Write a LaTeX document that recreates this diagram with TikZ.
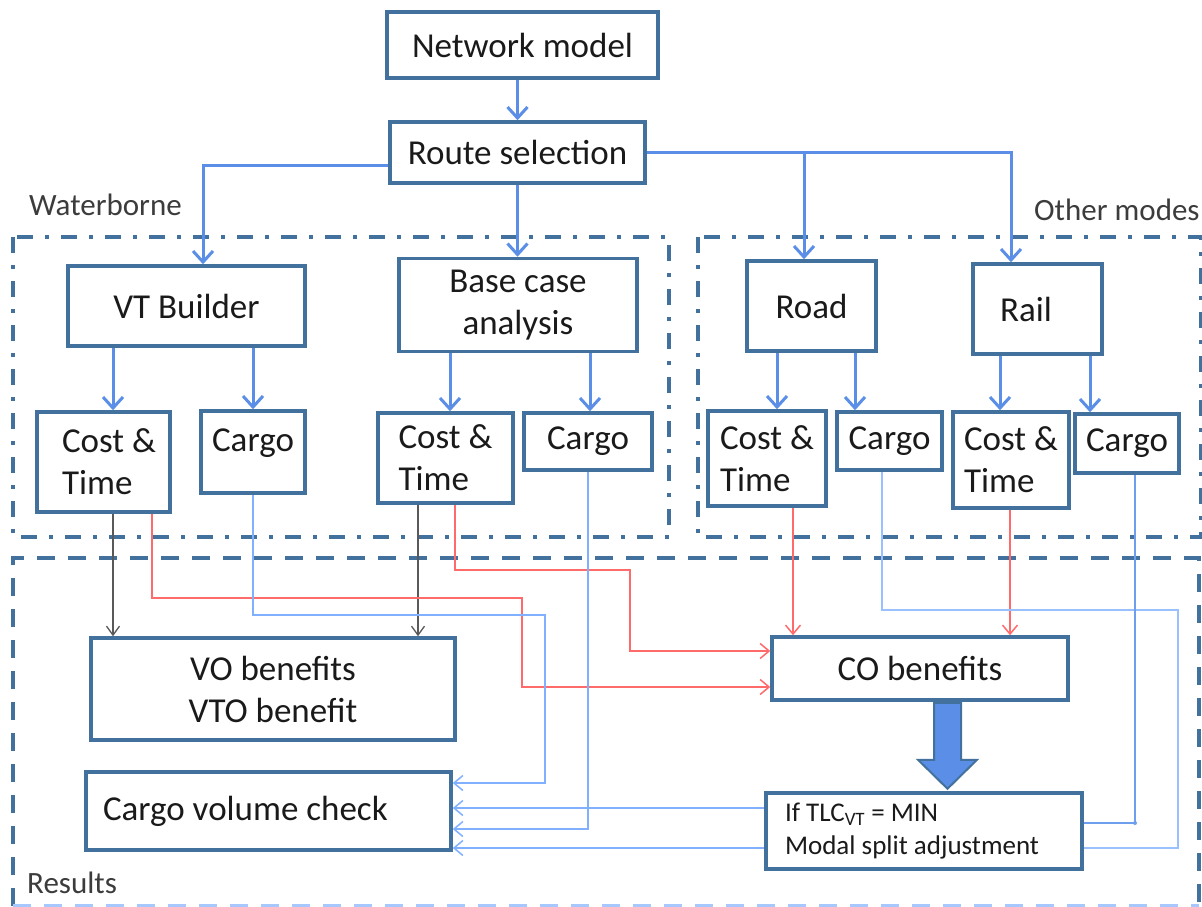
\documentclass[tikz,border=0pt]{standalone}
\usepackage{fontspec}
\setmainfont{Carlito}
\usetikzlibrary{arrows.meta}
\definecolor{boxc}{HTML}{41719C}
\definecolor{arrc}{HTML}{5B8EE6}
\definecolor{thinb}{HTML}{80B0FF}
\definecolor{thinb2}{HTML}{6E9FEE}
\definecolor{redc}{HTML}{FF6B6B}
\definecolor{grayc}{HTML}{595959}
\definecolor{txtc}{HTML}{1A1A1A}
\tikzset{
  box/.style={draw=boxc, line width=3.5pt, fill=white, inner sep=0pt, text=txtc,
    font=\fontsize{35}{42}\selectfont},
  smallbox/.style={box, font=\fontsize{27}{33}\selectfont},
  lbl/.style={inner sep=0pt, text=txtc!85, font=\fontsize{31}{37}\selectfont},
  barrow/.style={draw=arrc, line width=3pt, -{Straight Barb[length=11pt,width=20pt]}},
  rarrow/.style={draw=redc, line width=1.5pt, -{Straight Barb[length=9pt,width=15pt]}},
  garrow/.style={draw=grayc, line width=1.3pt, -{Straight Barb[length=9pt,width=13pt]}},
  tarrow/.style={draw=thinb, line width=1.5pt, -{Straight Barb[length=9pt,width=15pt]}},
  tline/.style={draw=thinb, line width=1.5pt},
  ddframe/.style={draw=boxc, line width=3.5pt, dash pattern=on 16pt off 12pt on 4pt off 12pt},
  dframe/.style={draw=boxc, line width=3.5pt, dash pattern=on 18pt off 13pt},
  blockarrow/.style={fill=arrc, draw=boxc, line width=2pt, line join=miter}
}
\begin{document}
\begin{tikzpicture}[x=1pt,y=-1pt]
\useasboundingbox[fill=white] (0,0) rectangle (1202,907);

% frames
\draw[ddframe] (13,237) rectangle (669,537);
\draw[ddframe] (698,237) rectangle (1201,537);
\draw[dframe] (13,906) -- (13,558) -- (1199,558) -- (1199,906);
\draw[dframe, draw=thinb!70] (13,906) -- (1199,906);

% labels
\node[lbl, anchor=west] (lw) at (29,205) {Waterborne};
\node[lbl, anchor=west] (lo) at (1034,210) {Other modes};
\node[lbl, anchor=west] (lr) at (27,883) {Results};

% top boxes
\node[box, minimum width=271, minimum height=66] (net) at (522.5,45) {Network model};
\node[box, minimum width=255, minimum height=61] (route) at (517.5,152.5) {Route selection};

% second level
\node[box, minimum width=237, minimum height=80] (vtb) at (186.5,306) {VT Builder};
\node[box, minimum width=238, minimum height=93, align=center] (base) at (518,305) {Base case\\analysis};
\node[box, minimum width=129, minimum height=90] (road) at (811.5,306) {Road};
\node[box, minimum width=129, minimum height=90, text width=113pt, inner xsep=8pt, align=flush left] (rail) at (1037.5,309) {\hspace*{19pt}Rail};

% third level
\node[box, minimum width=133, minimum height=100, text width=111pt, inner xsep=11pt, align=flush left] (vtct) at (103.5,462) {\hspace*{14pt}Cost \&\\\hspace*{14pt}Time};
\node[box, minimum width=104, minimum height=82, text height=40pt, text depth=42pt] (vtcg) at (253,452) {Cargo};
\node[box, minimum width=135, minimum height=90, align=left] (bct) at (445.5,458) {Cost \&\\Time};
\node[box, minimum width=128, minimum height=57] (bcg) at (588,441.5) {Cargo};
\node[box, minimum width=118, minimum height=95, align=left] (rct) at (767,458.5) {Cost \&\\Time};
\node[box, minimum width=105, minimum height=58] (rcg) at (889.5,441) {Cargo};
\node[box, minimum width=116, minimum height=96, align=left] (lct) at (1011,460) {Cost \&\\Time};
\node[box, minimum width=104, minimum height=59] (lcg) at (1127,443.5) {Cargo};

% results
\node[box, minimum width=364, minimum height=102, align=center] (vo) at (273,689) {VO benefits\\VTO benefit};
\node[box, minimum width=365, minimum height=78, text width=331pt, inner xsep=17pt, align=flush left] (cvc) at (268.5,811) {Cargo volume check};
\node[box, minimum width=296, minimum height=63] (co) at (920,668.5) {CO benefits};
\node[smallbox, minimum width=316, minimum height=76, text width=278pt, inner xsep=19pt, align=flush left] (tlc) at (924,831) {If TLC\textsubscript{VT} = MIN\\Modal split adjustment};

% blue arrows top
\draw[barrow] (net.south -| route.north) -- (route.north);
\draw[barrow] ([yshift=-12.5]route.west) -| ([xshift=16.5]vtb.north);
\draw[barrow] (route.south) -- (route.south |- base.north);
\coordinate (roadin) at ([xshift=-7.5]road.north);
\coordinate (railin) at ([xshift=-26.5]rail.north);
\draw[barrow] (route.east) -| (railin);
\draw[barrow] (roadin |- route.east) -- (roadin);

% blue arrows to third level
\coordinate (a1) at ([xshift=9.5]vtct.north);
\draw[barrow] (a1 |- vtb.south) -- (a1);
\draw[barrow] (vtcg.north |- vtb.south) -- (vtcg.north);
\coordinate (a3) at ([xshift=4.5]bct.north);
\draw[barrow] (a3 |- base.south) -- (a3);
\coordinate (a4) at ([xshift=2]bcg.north);
\draw[barrow] (a4 |- base.south) -- (a4);
\coordinate (a5) at ([xshift=10]rct.north);
\draw[barrow] (a5 |- road.south) -- (a5);
\coordinate (a6) at ([xshift=-34.5]rcg.north);
\draw[barrow] (a6 |- road.south) -- (a6);
\coordinate (a7) at ([xshift=-11]lct.north);
\draw[barrow] (a7 |- rail.south) -- (a7);
\coordinate (a8) at ([xshift=-37]lcg.north);
\draw[barrow] (a8 |- rail.south) -- (a8);

% gray arrows
\coordinate (g1) at ([xshift=9.5]vtct.south);
\draw[garrow] (g1) -- (g1 |- vo.north);
\coordinate (g2) at ([xshift=-27.5]bct.south);
\draw[garrow] (g2) -- (g2 |- vo.north);

% red arrows
\coordinate (r1s) at ([xshift=48.5]vtct.south);
\coordinate (r1a) at (522,598);
\coordinate (r1e) at ([yshift=-18.5]co.west);
\draw[rarrow] (r1s) |- (r1a) |- (r1e);
\coordinate (r2s) at ([xshift=9.5]bct.south);
\coordinate (r2a) at (630,570);
\coordinate (r2e) at ([yshift=17.5]co.west);
\draw[rarrow] (r2s) |- (r2a) |- (r2e);
\coordinate (r3s) at ([xshift=26]rct.south);
\draw[rarrow] (r3s) -- (r3s |- co.north);
\coordinate (r4s) at ([xshift=-1]lct.south);
\draw[rarrow] (r4s) -- (r4s |- co.north);

% thin blue cargo lines
\coordinate (c1a) at (545,615);
\coordinate (c1e) at ([yshift=28]cvc.east);
\draw[tarrow] (vtcg.south) |- (c1a) |- (c1e);
\coordinate (c2e) at ([yshift=-18]cvc.east);
\draw[tarrow] (bcg.south) |- (c2e);
\draw[tarrow] ([yshift=23]tlc.west) -- ([yshift=3]cvc.east);
\draw[tarrow] ([yshift=-17]tlc.west) -- ([yshift=-37]cvc.east);
\coordinate (c5s) at ([xshift=-7.5]rcg.south);
\coordinate (c5a) at (1178,610);
\coordinate (c5e) at ([yshift=-17]tlc.east);
\draw[tline, draw=thinb!80] (c5s) |- (c5a) |- (c5e);
\coordinate (c6s) at ([xshift=8]lcg.south);
\coordinate (c6e) at ([yshift=8]tlc.east);
\draw[tline, draw=thinb2] (c6s) |- (c6e);
\fill[thinb2] (c6s |- c6e) circle (2);

% block arrow
\coordinate (bt) at ([xshift=27.5]co.south);
\draw[blockarrow] ([xshift=-13.5,yshift=-1]bt) -- ++(0,57) -- ++(-16,0) -- ++(29.5,29) -- ++(29.5,-29) -- ++(-16,0) -- ++(0,-57) -- cycle;
\end{tikzpicture}
\end{document}
